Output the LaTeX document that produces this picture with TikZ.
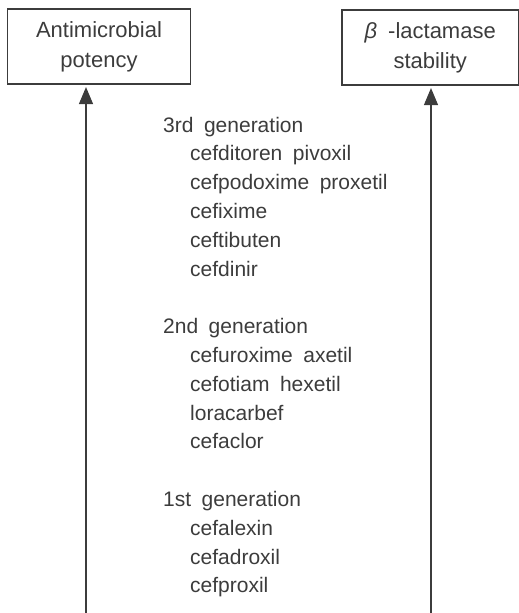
\documentclass[tikz,border=0pt]{standalone}
\usepackage{fontspec}
\setmainfont{Liberation Sans}[WordSpace=1.8]
\usetikzlibrary{arrows.meta}
\definecolor{ink}{HTML}{3C3C3C}
\begin{document}
\begin{tikzpicture}[x=1pt,y=-1pt,
  every node/.style={text=ink},
  box/.style={draw=ink, line width=1.1pt, minimum height=75pt, align=center, font=\fontsize{22}{30}\selectfont, inner sep=0pt},
  txt/.style={anchor=base west, inner sep=0pt, font=\fontsize{21}{25}\selectfont},
  axis/.style={draw=ink, line width=1.2pt, -{Triangle[width=14pt,length=17pt]}, shorten >=2.5pt}
]
\useasboundingbox (0,0) rectangle (519,613);
\node[box, minimum width=183pt] (pot) at (99,46.5) {Antimicrobial\\potency};
\node[box, minimum width=176.5pt] (stab) at (430.2,47.5) {\textit{β} -lactamase\\stability};
\coordinate (pb) at (86,613);
\coordinate (sb) at (431,613);
\draw[axis] (pb) -- (pot.south -| pb);
\draw[axis] (sb) -- (stab.south -| sb);
\foreach \i/\x/\t in {0/163/3rd generation, 1/190/cefditoren pivoxil, 2/190/cefpodoxime proxetil, 3/190/cefixime, 4/190/ceftibuten, 5/190/cefdinir,
  7/163/2nd generation, 8/190/cefuroxime axetil, 9/190/cefotiam hexetil, 10/190/loracarbef, 11/190/cefaclor,
  13/163/1st generation, 14/190/cefalexin, 15/190/cefadroxil, 16/190/cefproxil}
  \node[txt] (l\i) at (\x,132+\i*28.8) {\t};
\end{tikzpicture}
\end{document}
